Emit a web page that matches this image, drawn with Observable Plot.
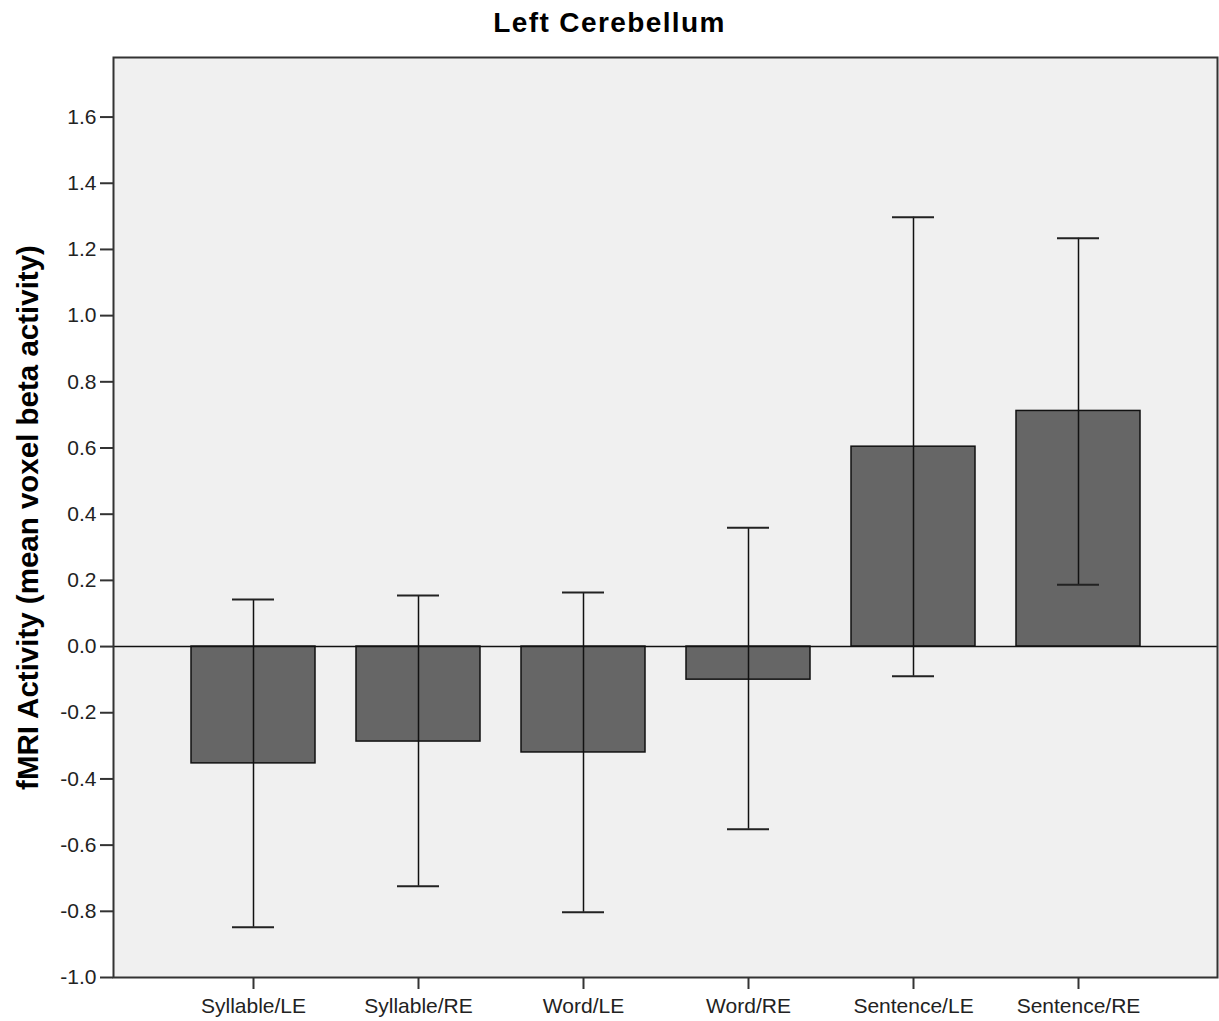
<!DOCTYPE html>
<html>
<head>
<meta charset="utf-8">
<script src="https://cdn.jsdelivr.net/npm/d3@7"></script>
<script src="https://cdn.jsdelivr.net/npm/@observablehq/plot@0.6"></script>
<style>
  body { margin: 0; background: #fff; font-family: "Liberation Sans", Arial, sans-serif; }
  #title { height: 46px; line-height: 46px; text-align: center; font-size: 28px; font-weight: bold; color: #000; letter-spacing: 1.4px; width: 1219px; }
  #chart { width: 1219px; height: 975px; }
</style>
</head>
<body>
<div id="title">Left Cerebellum</div>
<div id="chart"></div>
<script>
const categories = ["Syllable/LE", "Syllable/RE", "Word/LE", "Word/RE", "Sentence/LE", "Sentence/RE"];
const means = [-0.353, -0.287, -0.320, -0.100, 0.604, 0.712];
const ciLow = [-0.848, -0.724, -0.803, -0.552, -0.090, 0.187];
const ciHigh = [0.142, 0.154, 0.163, 0.359, 1.297, 1.234];
const yTicks = [-1.0, -0.8, -0.6, -0.4, -0.2, 0.0, 0.2, 0.4, 0.6, 0.8, 1.0, 1.2, 1.4, 1.6];
const yLabel = "fMRI Activity (mean voxel beta activity)";

const data = categories.map((c, i) => ({cat: c, mean: means[i], lo: ciLow[i], hi: ciHigh[i]}));

const chart = Plot.plot({
  width: 1219,
  height: 975,
  marginTop: 11,
  marginBottom: 44,
  marginLeft: 113,
  marginRight: 2,
  style: {fontFamily: "'Liberation Sans', Arial, sans-serif", background: "#fff"},
  x: {domain: categories, paddingInner: 0.25, paddingOuter: 0.457, label: null},
  y: {domain: [-1, 1.78], label: null},
  marks: [
    Plot.frame({fill: "#f0f0f0", stroke: null}),
    Plot.barY(data, {x: "cat", y: "mean", fill: "#666666", stroke: "#111", strokeWidth: 1.5}),
    Plot.ruleY([0], {stroke: "#111", strokeWidth: 1.5}),
    Plot.ruleX(data, {x: "cat", y1: "lo", y2: "hi", stroke: "#111", strokeWidth: 1.5}),
    Plot.tickY(data, {x: "cat", y: "lo", stroke: "#222", strokeWidth: 2, insetLeft: 41, insetRight: 41}),
    Plot.tickY(data, {x: "cat", y: "hi", stroke: "#222", strokeWidth: 2, insetLeft: 41, insetRight: 41}),
    Plot.axisY({ticks: yTicks, tickFormat: d => d.toFixed(1), tickSize: 13, tickPadding: 4, fontSize: 21, fill: "#222", stroke: "#333", strokeWidth: 2, label: null}),
    Plot.axisX({tickSize: 12, tickPadding: 9, fontSize: 21, fill: "#222", stroke: "#333", strokeWidth: 2, label: null}),
    Plot.frame({stroke: "#333", strokeWidth: 2}),
    Plot.text([yLabel], {frameAnchor: "left", textAnchor: "middle", rotate: -90, dx: -85, fontSize: 29.5, fontWeight: "bold", fill: "#000", text: d => d})
  ]
});
document.getElementById("chart").appendChild(chart);
</script>
</body>
</html>
